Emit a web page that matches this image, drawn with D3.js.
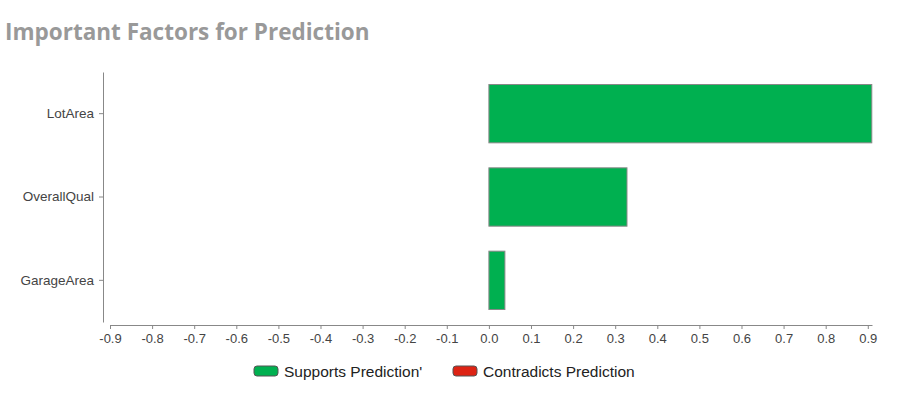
<!DOCTYPE html>
<html>
<head>
<meta charset="utf-8">
<script src="https://cdn.jsdelivr.net/npm/d3@7"></script>
<style>
  body { margin: 0; background: #fff; }
  .axis text { font-family: "Liberation Sans", Arial, sans-serif; font-size: 13px; fill: #444; }
  .axis path, .axis line { stroke: #888; }
</style>
</head>
<body>
<div id="chart-area"></div>
<script>
const factors = ['LotArea', 'OverallQual', 'GarageArea'];
const importance = [0.9095, 0.328, 0.038];
const xTicks = [-0.9, -0.8, -0.7, -0.6, -0.5, -0.4, -0.3, -0.2, -0.1, 0, 0.1, 0.2, 0.3, 0.4, 0.5, 0.6, 0.7, 0.8, 0.9];
const legendLabels = ["Supports Prediction'", 'Contradicts Prediction'];

const colors = ['#00b050', '#dd2314'];

const width = 907, height = 399;

var svg = d3.select("#chart-area").append("svg")
    .attr("width", width)
    .attr("height", height);

svg.append("text")
   .attr("x", 5)
   .attr("y", 40)
   .attr("font-family", "'Open Sans', sans-serif")
   .attr("font-weight", "bold")
   .attr("font-size", 22.5)
   .attr("fill", "#999")
   .text("Important Factors for Prediction");

var xScale = d3.scaleLinear()
               .domain([-0.9, 0.91])
               .range([110, 872]);

var yScale = d3.scaleBand()
               .domain(factors)
               .range([72, 322])
               .paddingInner(0.3)
               .paddingOuter(0.15);

// plain hyphen for negatives, like the original
var fmt = d3.format(".1f");
var xAxis = d3.axisBottom(xScale)
              .tickValues(xTicks)
              .tickFormat(d => fmt(d).replace("\u2212", "-"))
              .tickSize(4)
              .tickSizeOuter(0);

var yAxis = d3.axisLeft(yScale)
              .tickSize(4)
              .tickSizeOuter(0);

svg.append("g")
   .attr("class", "axis")
   .attr("transform", "translate(0,325)")
   .call(xAxis)
   .call(g => g.selectAll("text").attr("dy", "0.85em"));

svg.append("g")
   .attr("class", "axis")
   .attr("transform", "translate(103,0)")
   .call(yAxis)
   .call(g => g.selectAll("text").attr("x", -9).style("font-size", "13.5px"));

svg.selectAll("rect.bar")
   .data(factors)
   .enter()
   .append("rect")
   .attr("class", "bar")
   .attr("x", (d, i) => xScale(Math.min(0, importance[i])))
   .attr("y", d => yScale(d))
   .attr("width", (d, i) => Math.abs(xScale(importance[i]) - xScale(0)))
   .attr("height", yScale.bandwidth())
   .attr("fill", (d, i) => importance[i] >= 0 ? colors[0] : colors[1])
   .attr("stroke", "#888")
   .attr("stroke-width", 1);

// legend
var legendX = [254, 453];
var legend = svg.selectAll("g.legend")
   .data(legendLabels)
   .enter()
   .append("g")
   .attr("class", "legend")
   .attr("transform", (d, i) => `translate(${legendX[i]},366)`);

legend.append("rect")
   .attr("width", 24)
   .attr("height", 10)
   .attr("rx", 3)
   .attr("fill", (d, i) => colors[i])
   .attr("stroke", "#555")
   .attr("stroke-width", 1);

legend.append("text")
   .attr("x", 30)
   .attr("y", 11)
   .attr("font-family", "'Liberation Sans', Arial, sans-serif")
   .attr("font-size", 15.5)
   .attr("fill", "#222")
   .text(d => d);
</script>
</body>
</html>
